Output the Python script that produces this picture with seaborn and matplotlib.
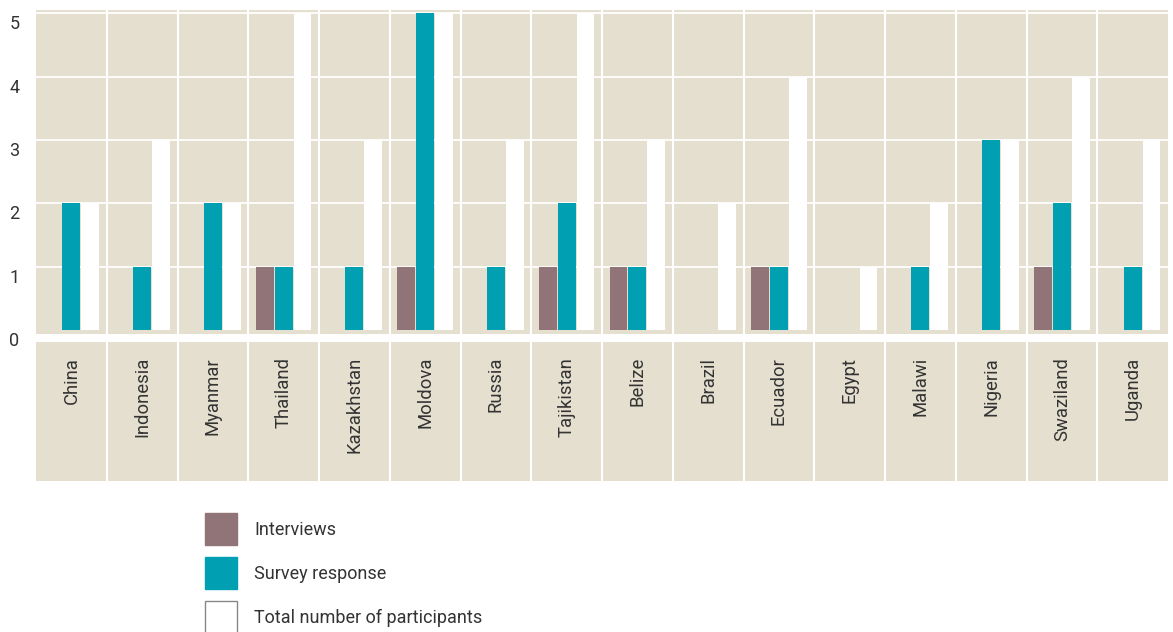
import matplotlib
matplotlib.use("Agg")
import matplotlib.pyplot as plt
import matplotlib.transforms as mtransforms
from matplotlib.patches import Patch
import seaborn as sns
import pandas as pd

countries = ["China", "Indonesia", "Myanmar", "Thailand", "Kazakhstan", "Moldova",
             "Russia", "Tajikistan", "Belize", "Brazil", "Ecuador", "Egypt",
             "Malawi", "Nigeria", "Swaziland", "Uganda"]
interviews = [0, 0, 0, 1, 0, 1, 0, 1, 1, 0, 1, 0, 0, 0, 1, 0]
survey = [2, 1, 2, 1, 1, 5, 1, 2, 1, 0, 1, 0, 1, 3, 2, 1]
total = [2, 3, 2, 5, 3, 5, 3, 5, 3, 2, 4, 1, 2, 3, 4, 3]
series_names = ["Interviews", "Survey response", "Total number of participants"]
yticks = [0, 1, 2, 3, 4, 5]

BEIGE = "#e5dfd0"
BROWN = "#917477"
TEAL = "#00a0b2"
WHITE = "#ffffff"
TEXT = "#333333"

sns.set_theme(style="white")
plt.rcParams["font.family"] = ["Roboto", "DejaVu Sans"]

df = pd.DataFrame({
    "country": countries * 3,
    "series": [series_names[0]] * 16 + [series_names[1]] * 16 + [series_names[2]] * 16,
    "value": interviews + survey + total,
})

W, H = 1173, 632
fig = plt.figure(figsize=(W / 100, H / 100), dpi=100)
fig.patch.set_facecolor("white")

def px_axes(x0, y0, x1, y1):
    return fig.add_axes([x0 / W, 1 - y1 / H, (x1 - x0) / W, (y1 - y0) / H])

ax = px_axes(36, 10, 1168, 334)
ax.set_facecolor(BEIGE)
sns.barplot(data=df, x="country", y="value", hue="series", order=countries,
            hue_order=series_names, palette=[BROWN, TEAL, WHITE], width=0.8,
            gap=0.05, saturation=1, linewidth=0, ax=ax, legend=False, zorder=3)
ax.set_xlim(-0.5, len(countries) - 0.5)
ax.set_ylim(-0.06, 5.05)
for y in yticks[1:]:
    ax.axhline(y, color="white", lw=1.3, zorder=1)
for i in range(len(countries) - 1):
    ax.axvline(i + 0.5, color="white", lw=1.5, zorder=1)
for s in ax.spines.values():
    s.set_visible(False)
ax.set_xticks([])
ax.set_xlabel("")
ax.set_ylabel("")
ax.set_yticks(yticks)
ax.set_yticklabels([str(v) for v in yticks])
ax.tick_params(axis="y", length=0, pad=12, labelsize=13, labelcolor=TEXT)
offset = mtransforms.ScaledTranslation(0, -9 / 100, fig.dpi_scale_trans)
for lab in ax.get_yticklabels():
    lab.set_transform(lab.get_transform() + offset)

# label panel
lax = px_axes(36, 342, 1168, 481)
lax.set_facecolor(BEIGE)
lax.set_xlim(-0.5, len(countries) - 0.5)
lax.set_ylim(0, 1)
for i in range(len(countries) - 1):
    lax.axvline(i + 0.5, color="white", lw=1.5)
for s in lax.spines.values():
    s.set_visible(False)
lax.set_xticks([])
lax.set_yticks([])
for i, c in enumerate(countries):
    lax.text(i, 1 - 15 / 139, c, rotation=90, ha="center", va="top",
             fontsize=13.3, color=TEXT)

handles = [Patch(facecolor=BROWN, edgecolor=BROWN),
           Patch(facecolor=TEAL, edgecolor=TEAL),
           Patch(facecolor=WHITE, edgecolor="#888888", linewidth=1)]
fs = 13
fpx = fs * 100 / 72
hh = (32 / fpx - 0.245) / 0.65
fig.legend(handles, series_names, loc="upper left",
           bbox_to_anchor=(205 / W, 1 - 513 / H), frameon=False, fontsize=fs,
           handlelength=32 / fpx, handleheight=hh,
           labelspacing=(44 - 32) / fpx, handletextpad=17 / fpx,
           borderpad=0, borderaxespad=0, labelcolor=TEXT)

fig.savefig("out.png", dpi=100, facecolor="white")
